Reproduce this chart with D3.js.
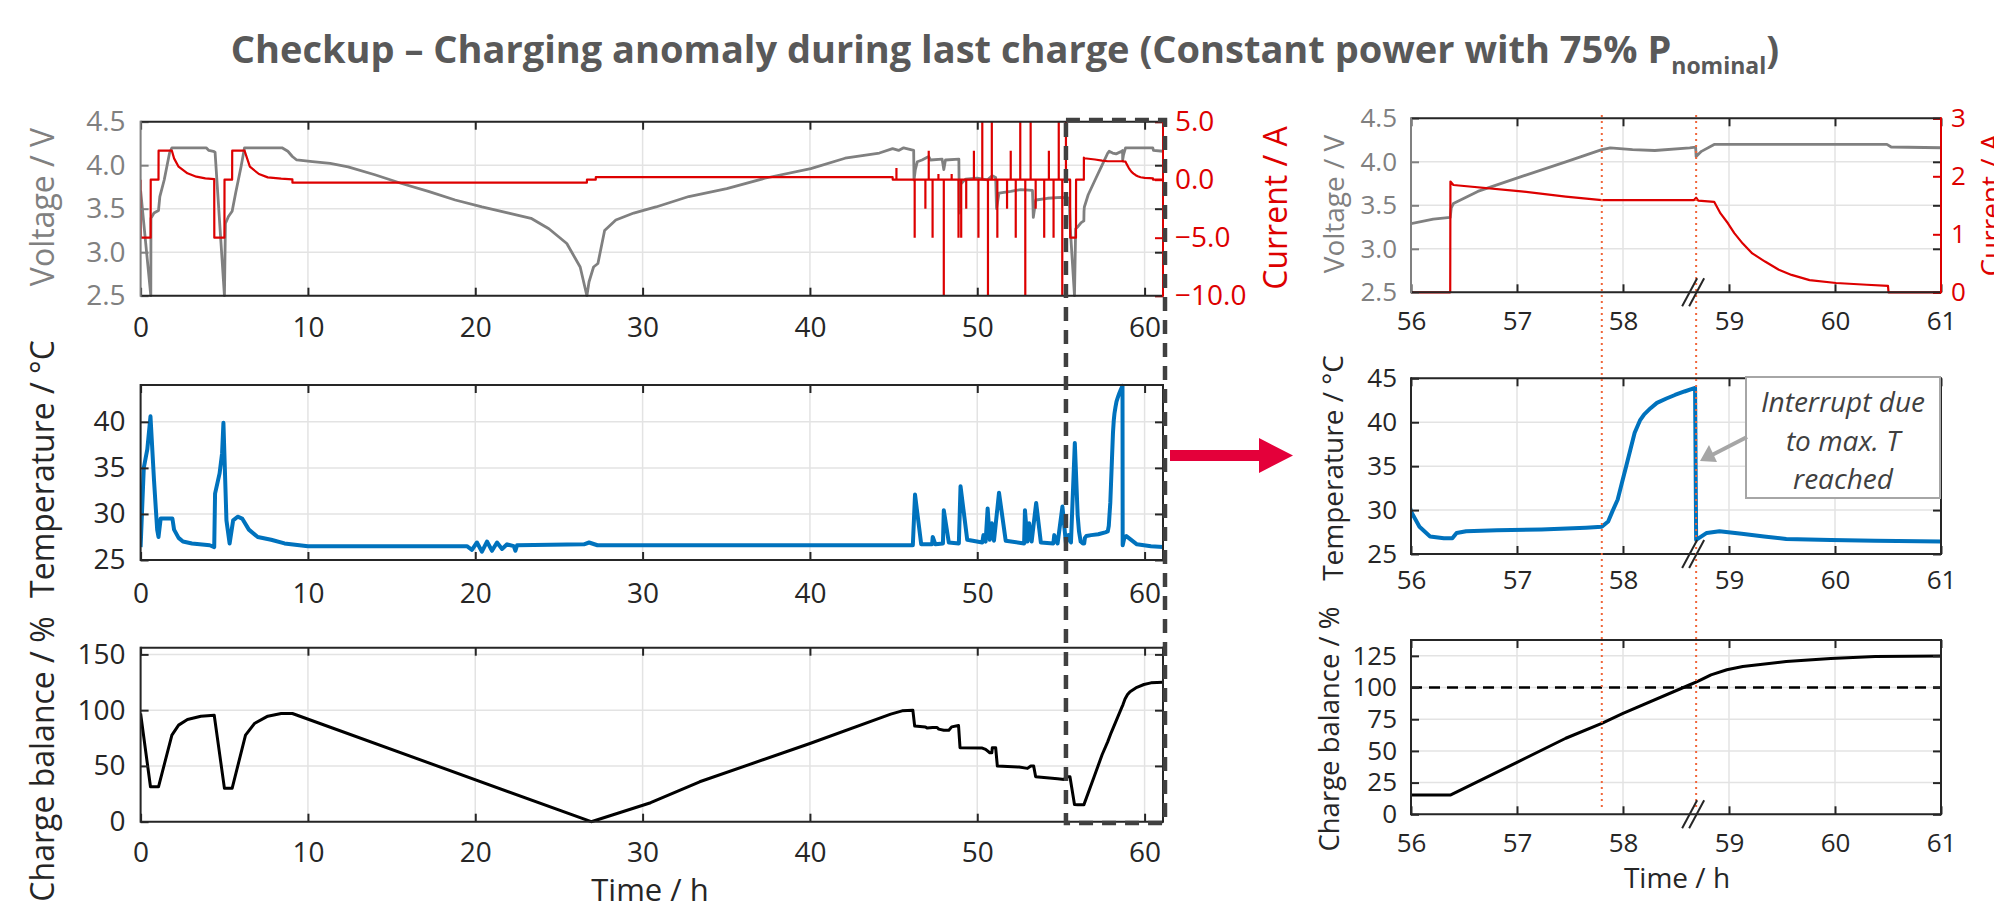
<!DOCTYPE html>
<html lang="en">
<head>
<meta charset="utf-8">
<title>Checkup – Charging anomaly during last charge</title>
<script src="https://cdn.jsdelivr.net/npm/d3@7"></script>
<style>
  body { margin: 0; background: #fff; }
  svg { display: block; font-family: "Open Sans", sans-serif; }
</style>
</head>
<body>
<script>

// ---- data: [time in h, value] ----
var voltage = [[0,3.71],[0.61,2.5],[0.62,3.39],[0.8,3.45],[1.07,3.48],[1.15,3.64],[1.41,3.83],[1.73,4.14],[1.87,4.2],[3.92,4.2],[4.08,4.17],[4.35,4.16],[4.45,4.15],[5.01,2.5],[5.07,3.33],[5.25,3.41],[5.47,3.47],[5.68,3.68],[6.0,3.98],[6.21,4.2],[8.45,4.2],[8.8,4.16],[9.07,4.1],[9.33,4.06],[10.27,4.04],[11.33,4.02],[12.4,3.98],[14,3.89],[15.6,3.79],[17.2,3.7],[18.8,3.6],[20.4,3.52],[22,3.45],[23.33,3.39],[24.4,3.27],[25.47,3.1],[26.27,2.83],[26.67,2.5],[26.8,2.66],[27.07,2.83],[27.33,2.87],[27.73,3.25],[28.4,3.37],[29.47,3.45],[30.8,3.52],[32.76,3.64],[35.03,3.73],[37.3,3.85],[40.05,3.96],[42.1,4.08],[44.15,4.14],[44.94,4.19],[45.3,4.17],[45.6,4.2],[46.2,4.17],[46.22,3.83],[46.3,3.95],[46.42,4.04],[46.7,4.06],[47.1,4.1],[47.2,4.06],[47.9,4.07],[48.0,3.95],[48.1,4.06],[48.9,4.07],[48.93,3.45],[49.0,3.78],[49.3,3.84],[50.0,3.85],[50.6,3.83],[50.9,3.88],[51.1,3.86],[51.15,3.5],[51.3,3.68],[52.0,3.7],[52.6,3.72],[53.3,3.71],[53.35,3.4],[53.5,3.6],[54.2,3.62],[55.0,3.63],[55.5,3.62],[55.55,3.3],[55.81,2.5],[55.88,3.27],[56.0,3.29],[56.21,3.34],[56.37,3.36],[56.38,3.47],[56.4,3.52],[56.63,3.66],[57.04,3.83],[57.46,4.0],[57.8,4.14],[57.88,4.16],[58.09,4.14],[58.3,4.13],[58.63,4.16],[58.685,4.17],[58.69,4.06],[58.74,4.12],[58.86,4.2],[60.49,4.2],[60.53,4.17],[61.1,4.16]];

var current = [[0,0],[0.005,-5],[0.6,-5],[0.605,0],[1.07,0],[1.075,2.5],[1.87,2.5],[2.0,1.84],[2.27,1.12],[2.8,0.55],[3.33,0.26],[3.87,0.11],[4.4,0.05],[4.405,-5],[5.01,-5],[5.015,0],[5.47,0],[5.475,2.5],[6.21,2.5],[6.53,1.12],[7.07,0.49],[7.6,0.2],[8.4,0.09],[9.07,0.03],[9.075,-0.25],[26.67,-0.25],[26.675,0],[27.2,0],[27.205,0.22],[44.94,0.22],[44.95,0],[55.55,0],[55.555,-5],[55.9,-5],[55.905,0],[56.37,0],[56.372,1.91],[56.4,1.85],[57.04,1.74],[57.46,1.65],[57.8,1.59],[58.67,1.59],[58.69,1.63],[58.71,1.58],[58.86,1.56],[58.92,1.36],[58.99,1.19],[59.05,1.02],[59.13,0.84],[59.22,0.67],[59.34,0.53],[59.47,0.39],[59.59,0.3],[59.76,0.21],[60.01,0.16],[60.3,0.13],[60.5,0.11],[60.505,0],[61.1,0]];

// short current pulses during the checkup: [time, peak current]
var currentPulses = [[45.17,1.0],[46.26,-5],[46.9,-2.5],[47.1,2.5],[47.33,-5],[47.68,0.5],[48.0,-10],[48.47,0.5],[48.88,-5],[49.04,-5],[49.34,-2.5],[49.8,2.5],[50.07,-5],[50.3,5],[50.64,-10],[50.87,5],[51.2,-5],[51.78,-2.5],[52.0,2.5],[52.3,-5],[52.57,5],[52.87,-10],[53.19,5],[53.49,-2.5],[54.0,-5],[54.28,2.5],[54.56,-5],[54.87,5],[55.08,-10],[55.3,5]];

var temperature = [[0,26.4],[0.19,35],[0.4,37],[0.59,40.6],[0.8,33.7],[0.99,28.3],[1.07,27.5],[1.2,29.5],[1.9,29.5],[2.0,28.3],[2.27,27.4],[2.53,27.0],[3.07,26.8],[4.13,26.6],[4.4,26.4],[4.45,32.2],[4.72,34.4],[4.87,36.6],[4.95,39.9],[5.13,29.3],[5.32,26.8],[5.53,29.3],[5.8,29.7],[6.07,29.5],[6.47,28.3],[7.0,27.5],[7.8,27.2],[8.6,26.8],[10,26.5],[15,26.5],[19.5,26.5],[19.8,26.1],[20.1,26.9],[20.4,25.9],[20.7,27.0],[21.0,26.0],[21.3,26.9],[21.6,26.2],[21.9,26.7],[22.3,26.5],[22.4,26.0],[22.5,26.6],[26.5,26.7],[26.8,26.9],[27.3,26.6],[46.15,26.6],[46.28,32.1],[46.65,26.7],[47.3,26.7],[47.34,27.5],[47.5,26.7],[47.95,26.8],[48.0,30.4],[48.3,26.9],[48.9,26.8],[49.0,33],[49.4,27.2],[50.3,26.9],[50.37,27.7],[50.5,27],[50.62,30.6],[50.75,27.2],[50.87,29],[51.0,27.1],[51.3,32.3],[51.7,27.1],[52.8,26.8],[52.85,30.4],[53.0,27],[53.1,29],[53.25,27],[53.52,31.2],[53.8,26.9],[54.55,26.8],[54.6,27.7],[54.8,26.8],[55.09,30.8],[55.3,26.8],[55.46,27.7],[55.6,26.9],[55.83,37.7],[56.0,29.85],[56.08,28.1],[56.18,27.0],[56.31,26.8],[56.39,26.8],[56.43,27.4],[56.52,27.6],[56.81,27.7],[57.23,27.8],[57.65,28.0],[57.8,28.1],[57.86,28.7],[57.9,29.85],[57.95,31.2],[57.99,33.1],[58.03,35.0],[58.07,36.9],[58.11,38.8],[58.16,40.2],[58.2,40.9],[58.26,41.6],[58.32,42.2],[58.41,42.7],[58.49,43.1],[58.58,43.5],[58.68,43.9],[58.69,26.6],[58.79,27.4],[58.91,27.6],[59.12,27.3],[59.33,27.0],[59.54,26.7],[59.96,26.6],[60.38,26.5],[61.1,26.4]];

var chargeBalance = [[0,97],[0.59,31.3],[1.07,31.3],[1.87,77.6],[2.27,86.6],[2.8,91.6],[3.6,94.6],[4.4,95.5],[5.01,29.9],[5.47,29.9],[6.27,77.6],[6.8,88],[7.6,94.6],[8.4,97],[9.07,97],[26.93,0],[30.48,17],[33.41,35.8],[40,70.1],[44.83,96.4],[45.51,99.4],[46.15,100],[46.26,85.7],[46.9,85],[47.0,84],[47.33,84.5],[47.6,84.5],[47.7,83],[48.0,82],[48.3,82],[48.47,85],[48.88,86.3],[48.97,66.3],[50.3,66],[50.5,64.8],[50.75,61.8],[50.87,61.8],[50.9,66.3],[51.1,66.3],[51.2,49.9],[52.5,49],[53.0,47.8],[53.2,49.9],[53.37,49.9],[53.49,40.3],[54.8,38.5],[55.2,37.9],[55.3,40.3],[55.54,40.3],[55.81,15.5],[56.0,15.3],[56.375,15.3],[57,41],[57.46,60],[57.8,71.8],[58,79.7],[58.625,102],[58.71,105],[58.83,110],[58.98,114],[59.13,116.6],[59.54,120.5],[59.96,123],[60.38,124.5],[61.1,125]];

var markerTimes = [57.8, 58.69];   // dotted reference lines
var interruptTime = 58.69;         // "//" break on the zoomed time axis
var chargeLimit = 100;             // dashed 100 % line
var zoomWindow = [55.3, 61.1];     // dashed box on the overview

// ---- ticks ----
var overviewTicksX = [0, 10, 20, 30, 40, 50, 60];
var zoomTicksX = [56, 57, 58, 59, 60, 61];
var voltTicks = [2.5, 3.0, 3.5, 4.0, 4.5];
var currentTicksL = [-10, -5, 0, 5];
var currentTicksR = [0, 1, 2, 3];
var tempTicksL = [25, 30, 35, 40];
var tempTicksR = [25, 30, 35, 40, 45];
var chargeTicksL = [0, 50, 100, 150];
var chargeTicksR = [0, 25, 50, 75, 100, 125];

// colours
var gray = "#808080", red = "#dd0000", blue = "#0072bd", dark = "#262626", gridCol = "#e3e3e3";

var svg = d3.select("body").append("svg")
  .attr("width", 1994)
  .attr("height", 910);

// Title
var title = svg.append("text")
  .attr("x", 1005).attr("y", 63)
  .attr("text-anchor", "middle")
  .attr("font-size", 38).attr("font-weight", 700)
  .attr("fill", "#595959");
title.append("tspan").text("Checkup – Charging anomaly during last charge (Constant power with 75% P");
title.append("tspan").attr("font-size", 23).attr("dy", 11).text("nominal");
title.append("tspan").attr("dy", -11).text(")");

// Scales
var xL = d3.scaleLinear().domain([0, 61.1]).range([140.6, 1163]);
var xR = d3.scaleLinear().domain([56, 61]).range([1411, 1941]);

var yVoltL = d3.scaleLinear().domain([2.5, 4.5]).range([295.7, 121.7]);
var yCurL = d3.scaleLinear().domain([-10, 5]).range([295.7, 121.7]);
var yTempL = d3.scaleLinear().domain([25, 44]).range([560, 385]);
var yChgL = d3.scaleLinear().domain([0, 156]).range([821.7, 647.7]);

var yVoltR = d3.scaleLinear().domain([2.5, 4.5]).range([292.3, 118.3]);
var yCurR = d3.scaleLinear().domain([0, 3]).range([292.3, 118.3]);
var yTempR = d3.scaleLinear().domain([25, 45]).range([554, 378.3]);
var yChgR = d3.scaleLinear().domain([0, 137.5]).range([814.3, 640]);

var clipCount = 0;

function styleAxis(sel, tickColor, textColor, fs) {
  sel.attr("font-family", null).attr("font-size", null);
  sel.select(".domain").remove();
  sel.selectAll(".tick line").attr("stroke", tickColor).attr("stroke-width", 2);
  sel.selectAll(".tick text").attr("fill", textColor).attr("font-size", fs);
}

// one set of axes: grid, clipped plot layer, box + ticks
function panel(o) {
  var xr = o.x.range(), yr = o.y.range();
  var g = svg.append("g");
  var id = "clip" + (clipCount++);
  svg.append("clipPath").attr("id", id).append("rect")
    .attr("x", xr[0]).attr("y", yr[1] - 2)
    .attr("width", xr[1] - xr[0]).attr("height", yr[0] - yr[1] + 4);

  var grid = g.append("g").attr("stroke", gridCol).attr("stroke-width", 1.5);
  grid.selectAll(null).data(o.xTicks).enter().append("line")
    .attr("x1", function(d) { return o.x(d); }).attr("x2", function(d) { return o.x(d); })
    .attr("y1", yr[0]).attr("y2", yr[1]);
  grid.selectAll(null).data(o.yTicks).enter().append("line")
    .attr("x1", xr[0]).attr("x2", xr[1])
    .attr("y1", function(d) { return o.y(d); }).attr("y2", function(d) { return o.y(d); });

  var plot = g.append("g").attr("clip-path", "url(#" + id + ")");
  var ax = g.append("g");
  var tl = 8;

  ax.append("g").attr("transform", "translate(0," + yr[0] + ")")
    .call(d3.axisBottom(o.x).tickValues(o.xTicks).tickSize(-tl).tickPadding(o.xPad).tickFormat(d3.format("d")))
    .call(styleAxis, dark, dark, o.fs);
  ax.append("g").attr("transform", "translate(0," + yr[1] + ")")
    .call(d3.axisTop(o.x).tickValues(o.xTicks).tickSize(-tl).tickFormat(""))
    .call(styleAxis, dark, dark, o.fs);
  ax.append("g").attr("transform", "translate(" + xr[0] + ",0)")
    .call(d3.axisLeft(o.y).tickValues(o.yTicks).tickSize(-tl).tickPadding(o.yPad).tickFormat(o.yFmt))
    .call(styleAxis, o.yColor, o.yColor === gray ? gray : dark, o.fs);
  ax.append("g").attr("transform", "translate(" + xr[1] + ",0)")
    .call(d3.axisRight(o.y).tickValues(o.yTicks).tickSize(-tl).tickFormat(""))
    .call(styleAxis, dark, dark, o.fs);
  if (o.y2) {
    ax.append("g").attr("transform", "translate(" + xr[1] + ",0)")
      .call(d3.axisRight(o.y2).tickValues(o.y2Ticks).tickSize(-tl).tickPadding(o.y2Pad).tickFormat(o.y2Fmt))
      .call(styleAxis, red, red, o.fs);
  }

  // box
  ax.append("line").attr("x1", xr[0]).attr("x2", xr[1]).attr("y1", yr[1]).attr("y2", yr[1])
    .attr("stroke", dark).attr("stroke-width", 2);
  ax.append("line").attr("x1", xr[0]).attr("x2", xr[1]).attr("y1", yr[0]).attr("y2", yr[0])
    .attr("stroke", dark).attr("stroke-width", 2);
  ax.append("line").attr("x1", xr[0]).attr("x2", xr[0]).attr("y1", yr[0] + 1).attr("y2", yr[1] - 1)
    .attr("stroke", o.yColor).attr("stroke-width", 2);
  ax.append("line").attr("x1", xr[1]).attr("x2", xr[1]).attr("y1", yr[0] + 1).attr("y2", yr[1] - 1)
    .attr("stroke", o.y2 ? red : dark).attr("stroke-width", 2);

  return { plot: plot, ax: ax };
}

function drawLine(layer, data, x, y, color, width) {
  layer.append("path")
    .datum(data)
    .attr("d", d3.line().x(function(d) { return x(d[0]); }).y(function(d) { return y(d[1]); }))
    .attr("fill", "none")
    .attr("stroke", color)
    .attr("stroke-width", width)
    .attr("stroke-linejoin", "round");
}

function drawPulses(layer, x, y) {
  layer.selectAll(null).data(currentPulses).enter().append("line")
    .attr("x1", function(d) { return x(d[0]); }).attr("x2", function(d) { return x(d[0]); })
    .attr("y1", y(0)).attr("y2", function(d) { return y(d[1]); })
    .attr("stroke", red).attr("stroke-width", 2.2);
}

function yLabel(txt, x, y, fs, color) {
  svg.append("text")
    .attr("transform", "translate(" + x + "," + y + ") rotate(-90)")
    .attr("text-anchor", "middle")
    .attr("font-size", fs)
    .attr("fill", color)
    .text(txt);
}

var f1 = d3.format(".1f"), fd = d3.format("d");

// ---------- overview (left) ----------
var pVL = panel({ x: xL, y: yVoltL, xTicks: overviewTicksX, yTicks: voltTicks, yFmt: f1, yColor: gray,
  y2: yCurL, y2Ticks: currentTicksL, y2Fmt: f1, y2Pad: 12, fs: 28, xPad: 21, yPad: 15 });
drawLine(pVL.plot, voltage, xL, yVoltL, gray, 2.8);
drawLine(pVL.plot, current, xL, yCurL, red, 2.2);
drawPulses(pVL.plot, xL, yCurL);

var pTL = panel({ x: xL, y: yTempL, xTicks: overviewTicksX, yTicks: tempTicksL, yFmt: fd, yColor: dark,
  fs: 28, xPad: 23, yPad: 15 });
drawLine(pTL.plot, temperature, xL, yTempL, blue, 4);

var pCL = panel({ x: xL, y: yChgL, xTicks: overviewTicksX, yTicks: chargeTicksL, yFmt: fd, yColor: dark,
  fs: 28, xPad: 20, yPad: 15 });
drawLine(pCL.plot, chargeBalance, xL, yChgL, "#000", 3);

yLabel("Voltage / V", 54, 207, 32, gray);
yLabel("Current / A", 1287, 208, 32, red);
yLabel("Temperature / °C", 54, 469, 32, dark);
yLabel("Charge balance / %", 54, 759, 32, dark);
svg.append("text").attr("x", 650).attr("y", 901).attr("text-anchor", "middle")
  .attr("font-size", 31).attr("fill", dark).text("Time / h");

// ---------- zoom (right) ----------
var pVR = panel({ x: xR, y: yVoltR, xTicks: zoomTicksX, yTicks: voltTicks, yFmt: f1, yColor: gray,
  y2: yCurR, y2Ticks: currentTicksR, y2Fmt: fd, y2Pad: 10, fs: 26, xPad: 19, yPad: 14 });
drawLine(pVR.plot, voltage, xR, yVoltR, gray, 2.8);
drawLine(pVR.plot, current, xR, yCurR, red, 2.2);

var pTR = panel({ x: xR, y: yTempR, xTicks: zoomTicksX, yTicks: tempTicksR, yFmt: fd, yColor: dark,
  fs: 26, xPad: 17, yPad: 14 });
drawLine(pTR.plot, temperature, xR, yTempR, blue, 4);

var pCR = panel({ x: xR, y: yChgR, xTicks: zoomTicksX, yTicks: chargeTicksR, yFmt: fd, yColor: dark,
  fs: 26, xPad: 19, yPad: 14 });
pCR.plot.append("line")
  .attr("x1", xR(56)).attr("x2", xR(61))
  .attr("y1", yChgR(chargeLimit)).attr("y2", yChgR(chargeLimit))
  .attr("stroke", "#000").attr("stroke-width", 2.5).attr("stroke-dasharray", "11,7");
drawLine(pCR.plot, chargeBalance, xR, yChgR, "#000", 3);

yLabel("Voltage / V", 1344, 204, 28, gray);
yLabel("Current / A", 2001, 205, 28, red);
yLabel("Temperature / °C", 1343, 468, 28, dark);
yLabel("Charge balance / %", 1339, 729, 27.5, dark);
svg.append("text").attr("x", 1677).attr("y", 888).attr("text-anchor", "middle")
  .attr("font-size", 28).attr("fill", dark).text("Time / h");

// dotted reference lines through the three zoom panels
svg.append("g").selectAll("line").data(markerTimes).enter().append("line")
  .attr("x1", function(d) { return xR(d); }).attr("x2", function(d) { return xR(d); })
  .attr("y1", 115).attr("y2", 810)
  .attr("stroke", "#f0663a").attr("stroke-width", 2).attr("stroke-dasharray", "2,4");

// "//" axis break marks
[yVoltR, yTempR, yChgR].forEach(function(y) {
  var yb = y.range()[0];
  [-3.5, 3.5].forEach(function(off) {
    var cx = xR(interruptTime) + off - 3;
    svg.append("line")
      .attr("x1", cx - 7.5).attr("y1", yb + 14)
      .attr("x2", cx + 7.5).attr("y2", yb - 14)
      .attr("stroke", dark).attr("stroke-width", 2);
  });
});

// annotation box
var ann = svg.append("g");
ann.append("rect").attr("x", 1746).attr("y", 377).attr("width", 194).attr("height", 121)
  .attr("fill", "#fff").attr("stroke", "#a6a6a6").attr("stroke-width", 2);
["Interrupt due", "to max. T", "reached"].forEach(function(t, i) {
  ann.append("text").attr("x", 1843).attr("y", 412 + i * 38.5)
    .attr("text-anchor", "middle").attr("font-size", 28).attr("font-style", "italic")
    .attr("fill", "#404040").text(t);
});
ann.append("line").attr("x1", 1747).attr("y1", 437).attr("x2", 1712).attr("y2", 455)
  .attr("stroke", "#a6a6a6").attr("stroke-width", 4);
ann.append("path").attr("d", "M1700,461 L1709,445 L1717,462 Z").attr("fill", "#a6a6a6");

// dashed box on the overview marking the zoom window
svg.append("rect")
  .attr("x", xL(zoomWindow[0])).attr("y", 120)
  .attr("width", xL(zoomWindow[1]) + 2 - xL(zoomWindow[0])).attr("height", 703)
  .attr("fill", "none").attr("stroke", "#404040").attr("stroke-width", 4.5)
  .attr("stroke-dasharray", "14,9");

// red arrow pointing to the zoom
svg.append("path")
  .attr("d", "M1170,450 L1259,450 L1259,438 L1293,455.5 L1259,473 L1259,461 L1170,461 Z")
  .attr("fill", "#e4003a");

</script>
</body>
</html>
